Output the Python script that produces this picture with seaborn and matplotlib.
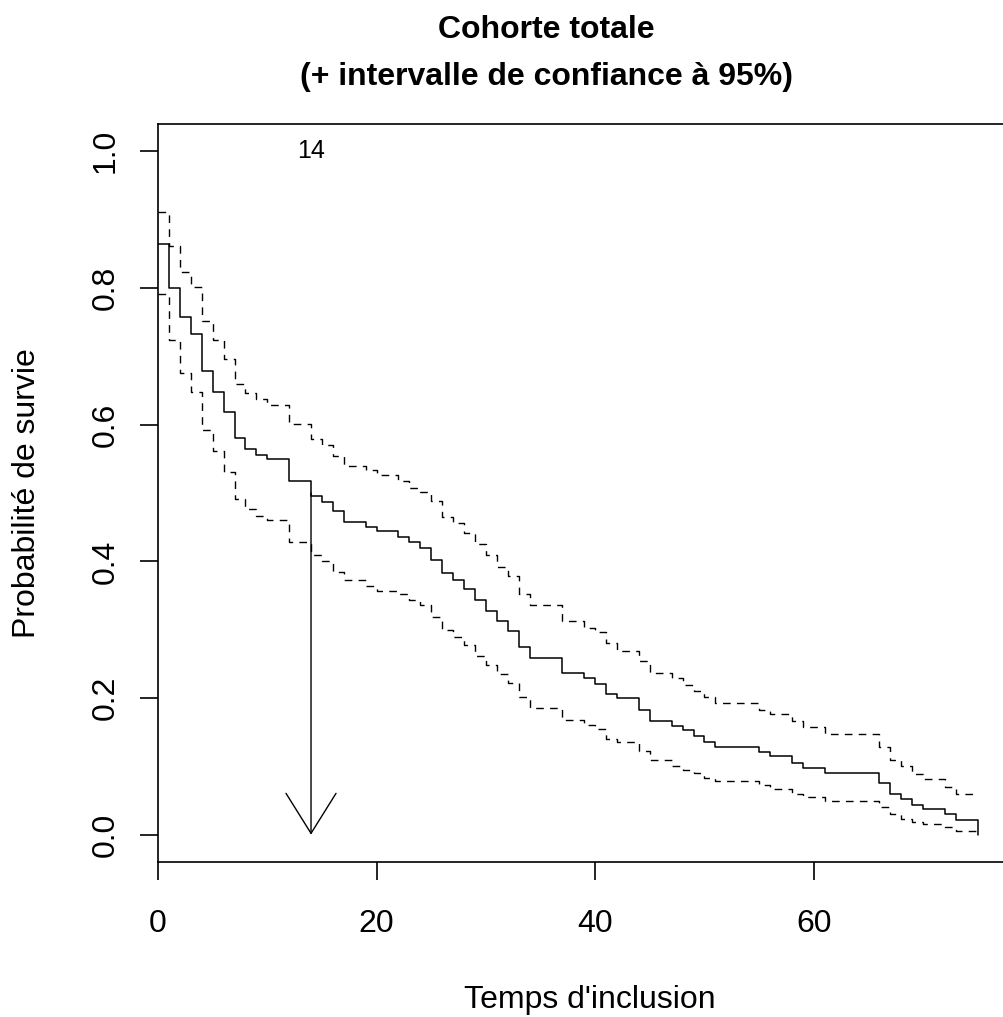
import numpy as np
import pandas as pd
import seaborn as sns
import matplotlib.pyplot as plt

# Kaplan-Meier curve: step times and values after each step
times = [0, 1, 2, 3, 4, 5, 6, 7, 8, 9, 10, 12, 14, 15, 16, 17, 19, 20,
         22, 23, 24, 25, 26, 27, 28, 29, 30, 31, 32, 33, 34,
         37, 39, 40, 41, 42, 44, 45, 47, 48, 49, 50, 51,
         55, 56, 58, 59, 61, 66, 67, 68, 69, 70, 72, 73]
surv = [0.864, 0.800, 0.757, 0.732, 0.678, 0.648, 0.618, 0.580, 0.565, 0.555, 0.550,
        0.517, 0.495, 0.487, 0.474, 0.457, 0.450, 0.444,
        0.435, 0.428, 0.420, 0.402, 0.383, 0.373, 0.359, 0.343, 0.328, 0.313, 0.298, 0.275, 0.259,
        0.237, 0.230, 0.220, 0.206, 0.200, 0.183, 0.167,
        0.159, 0.153, 0.145, 0.135, 0.128,
        0.121, 0.115, 0.105, 0.098, 0.090,
        0.075, 0.060, 0.052, 0.043, 0.037, 0.030, 0.022]
upper = [0.911, 0.862, 0.823, 0.801, 0.751, 0.724, 0.696, 0.660, 0.646, 0.638, 0.629,
         0.601, 0.579, 0.570, 0.554, 0.540, 0.533, 0.526,
         0.517, 0.508, 0.502, 0.488, 0.465, 0.456, 0.441, 0.426, 0.409, 0.392, 0.379, 0.352, 0.336,
         0.313, 0.303, 0.296, 0.280, 0.269, 0.254, 0.237,
         0.229, 0.219, 0.210, 0.202, 0.192,
         0.183, 0.176, 0.166, 0.157, 0.147,
         0.128, 0.109, 0.100, 0.089, 0.081, 0.070, 0.060]
lower = [0.791, 0.724, 0.675, 0.648, 0.592, 0.561, 0.531, 0.491, 0.476, 0.467, 0.460,
         0.429, 0.409, 0.401, 0.385, 0.372, 0.364, 0.356,
         0.352, 0.344, 0.336, 0.319, 0.299, 0.290, 0.278, 0.261, 0.248, 0.235, 0.222, 0.202, 0.186,
         0.168, 0.161, 0.155, 0.140, 0.135, 0.122, 0.109,
         0.101, 0.094, 0.090, 0.083, 0.079,
         0.073, 0.067, 0.060, 0.055, 0.049,
         0.040, 0.030, 0.023, 0.019, 0.015, 0.011, 0.006]
t_end = 75
median_time = 14

x_ticks = [0, 20, 40, 60]
y_ticks = [0.0, 0.2, 0.4, 0.6, 0.8, 1.0]

# curve ends with a drop to 0, the bands just stop at the last time
km = pd.DataFrame({"t": times + [t_end], "s": surv + [0.0]})
band_hi = pd.DataFrame({"t": times + [t_end], "s": upper + [upper[-1]]})
band_lo = pd.DataFrame({"t": times + [t_end], "s": lower + [lower[-1]]})

sns.set_style("white")
plt.rcParams["font.family"] = ["Liberation Sans", "DejaVu Sans"]
plt.rcParams["text.color"] = "black"
plt.rcParams["axes.labelcolor"] = "black"
plt.rcParams["xtick.color"] = "black"
plt.rcParams["ytick.color"] = "black"

fig = plt.figure(figsize=(10.04, 10.17), dpi=100)
W, H = 1004, 1017
ax = fig.add_axes([158 / W, (H - 862) / H, 852.5 / W, 738 / H])

sns.lineplot(data=km, x="t", y="s", ax=ax, drawstyle="steps-post",
             color="black", lw=1.1)
for band in (band_hi, band_lo):
    sns.lineplot(data=band, x="t", y="s", ax=ax, drawstyle="steps-post",
                 color="black", lw=1.0, linestyle=(0, (5.5, 4.5)))

# median arrow
ax.annotate("", xy=(median_time, 0), xytext=(median_time, 0.5),
            arrowprops=dict(arrowstyle="->,head_length=28.8,head_width=18",
                            mutation_scale=1, lw=1.0, color="black",
                            shrinkA=0, shrinkB=0))
ax.text(median_time, 1.0, str(median_time), ha="center", va="center", fontsize=18)

ax.set_xlim(0, 78)
ax.set_ylim(-0.04, 1.04)
ax.set_xticks(x_ticks)
ax.set_xticklabels([str(v) for v in x_ticks], fontsize=23)
ax.set_yticks(y_ticks)
ax.set_yticklabels([f"{v:.1f}" for v in y_ticks], fontsize=23, rotation=90, va="center")
ax.tick_params(axis="both", direction="out", length=13, width=1.2, color="black",
               left=True, bottom=True)
ax.tick_params(axis="x", pad=21)
ax.tick_params(axis="y", pad=14)
for sp in ax.spines.values():
    sp.set_color("black")
    sp.set_linewidth(1.2)

ax.set_xlabel("Temps d'inclusion", fontsize=23)
ax.xaxis.set_label_coords((590 - 158) / 852.5, -(1008 - 862) / 738)
ax.xaxis.label.set_va("baseline")
ax.set_ylabel("Probabilité de survie", fontsize=23, va="center")
ax.yaxis.set_label_coords(-(158 - 27) / 852.5, 0.5)

ax.set_title("Cohorte totale\n(+ intervalle de confiance à 95%)", fontsize=23,
             fontweight="bold", x=(546 - 158) / 852.5, pad=28, linespacing=1.75)

plt.savefig("out.png", dpi=100)
plt.close()
